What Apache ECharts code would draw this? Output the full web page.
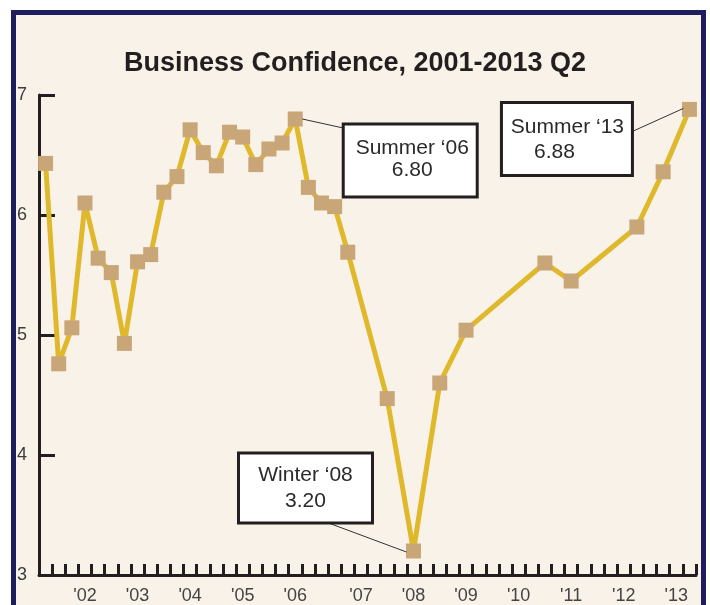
<!DOCTYPE html>
<html>
<head>
<meta charset="utf-8">
<script src="https://cdn.jsdelivr.net/npm/echarts@6/dist/echarts.min.js"></script>
<style>
    html, body { margin: 0; padding: 0; background: #fff; overflow: hidden; }
    #frame {
        position: absolute; left: 11px; top: 10px; width: 695px; height: 640px;
        box-sizing: border-box; border: 5px solid #1f1e5c; background: #f8f2e8;
    }
    #chart { position: absolute; left: 0; top: 0; width: 710px; height: 605px; }
</style>
</head>
<body>
<div id="frame"></div>
<div id="chart"></div>
<script>
// quarters 2001 Q1 .. 2013 Q2
const quarters = [];
for (let y = 2001; y <= 2013; y++) {
    for (let q = 1; q <= 4; q++) {
        if (y === 2013 && q > 2) break;
        quarters.push(y + ' Q' + q);
    }
}

// business confidence readings (null = no survey that quarter)
const confidence = [
    6.43, 4.76, 5.06, 6.10, 5.64, 5.52, 4.93, 5.61, 5.67, 6.19,
    6.32, 6.71, 6.52, 6.41, 6.69, 6.65, 6.42, 6.55, 6.60, 6.80,
    6.23, 6.10, 6.07, 5.69, null, null, 4.47, null, 3.20, null,
    4.60, null, 5.04, null, null, null, null, null, 5.60, null,
    5.45, null, null, null, null, 5.90, null, 6.36, null, 6.88
];

// year tick labels and the quarter each one sits under
const yearLabels = ["'02", "'03", "'04", "'05", "'06", "'07", "'08", "'09", "'10", "'11", "'12", "'13"];
const yearLabelAt = ['2001 Q4', '2002 Q4', '2003 Q4', '2004 Q4', '2005 Q4', '2007 Q1',
                     '2008 Q1', '2009 Q1', '2010 Q1', '2011 Q1', '2012 Q1', '2013 Q1'];

const yTicks = [3, 4, 5, 6, 7];

// callouts
const calloutQuarter = [19, 49, 28];
const calloutTitle = ['Summer \u201806', 'Summer \u201813', 'Winter \u201808'];
const calloutValue = ['6.80', '6.88', '3.20'];

const INK = '#231f20';
const FONT = "'Liberation Sans', Arial, sans-serif";

const chart = echarts.init(document.getElementById('chart'));

const option = {
    backgroundColor: 'transparent',
    animation: false,
    title: {
        text: 'Business Confidence, 2001-2013 Q2',
        left: 'center',
        top: 45,
        textStyle: { fontFamily: FONT, fontSize: 27, fontWeight: 'bold', color: INK }
    },
    grid: { left: 39, right: 14, top: 95, bottom: 30 },
    xAxis: {
        type: 'category',
        data: quarters,
        boundaryGap: true,
        axisLine: { lineStyle: { color: INK, width: 3 } },
        axisTick: {
            show: true, inside: true, interval: 0, alignWithLabel: false, length: 11,
            lineStyle: { color: INK, width: 3 }
        },
        axisLabel: {
            interval: 0,
            margin: 12,
            fontFamily: FONT,
            fontSize: 18,
            color: '#444',
            formatter: v => {
                const i = yearLabelAt.indexOf(v);
                return i >= 0 ? yearLabels[i] : '';
            }
        },
        splitLine: { show: false }
    },
    yAxis: {
        type: 'value',
        min: yTicks[0],
        max: yTicks[yTicks.length - 1],
        interval: 1,
        axisLine: { show: true, lineStyle: { color: INK, width: 3 } },
        axisTick: { show: true, inside: true, length: 16, lineStyle: { color: INK, width: 3 } },
        axisLabel: { margin: 12, fontFamily: FONT, fontSize: 18, color: '#3c3c3c' },
        splitLine: { show: false }
    },
    series: [{
        type: 'line',
        data: confidence,
        connectNulls: true,
        symbol: 'rect',
        symbolSize: 15,
        lineStyle: { color: '#e0b82b', width: 5 },
        itemStyle: { color: '#c9a678' },
        z: 3
    }]
};
chart.setOption(option);

// callout boxes placed relative to their data points
const boxLayout = [
    { bx: 48, by: 5, w: 134, h: 73, t1: [69, 24], t2: [69, 46], l1: p => [p[0] + 7, p[1]], l2: b => [b[0], b[1] + 4] },
    { bx: -188, by: -7, w: 131, h: 73, t1: [66, 25], t2: [53, 50], l1: p => [p[0] - 6, p[1] - 1], l2: b => [b[0] + 131, b[1] + 29] },
    { bx: -175, by: -98, w: 134, h: 70, t1: [67, 22], t2: [67, 48], l1: p => [p[0] - 7, p[1] + 1], l2: b => [b[0] + 90, b[1] + 70] }
];

const elements = [];
calloutQuarter.forEach((q, i) => {
    const p = chart.convertToPixel({ seriesIndex: 0 }, [q, confidence[q]]);
    const L = boxLayout[i];
    const b = [p[0] + L.bx, p[1] + L.by];
    const a = L.l1(p), c = L.l2(b);
    elements.push({
        type: 'line', z: 90,
        shape: { x1: a[0], y1: a[1], x2: c[0], y2: c[1] },
        style: { stroke: '#333', lineWidth: 1 }
    });
    elements.push({
        type: 'rect', z: 100,
        shape: { x: b[0], y: b[1], width: L.w, height: L.h },
        style: { fill: '#fff', stroke: INK, lineWidth: 3 }
    });
    elements.push({
        type: 'text', z: 101,
        style: { x: b[0] + L.t1[0], y: b[1] + L.t1[1], text: calloutTitle[i], fill: '#2a2a2a',
                 font: '21px ' + FONT, textAlign: 'center', textVerticalAlign: 'middle' }
    });
    elements.push({
        type: 'text', z: 101,
        style: { x: b[0] + L.t2[0], y: b[1] + L.t2[1], text: calloutValue[i], fill: '#2a2a2a',
                 font: '21px ' + FONT, textAlign: 'center', textVerticalAlign: 'middle' }
    });
});
chart.setOption({ graphic: { elements } });
</script>
</body>
</html>
